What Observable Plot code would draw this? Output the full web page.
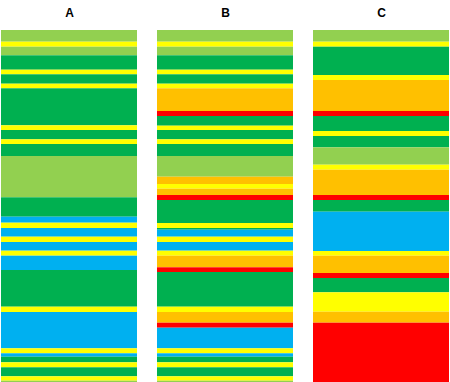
<!DOCTYPE html>
<html>
<head>
<meta charset="utf-8">
<script src="https://cdn.jsdelivr.net/npm/d3@7"></script>
<script src="https://cdn.jsdelivr.net/npm/@observablehq/plot@0.6"></script>
<style>
  html, body { margin: 0; padding: 0; background: #fff; }
</style>
</head>
<body>
<div id="chart"></div>
<script>
// Column labels
const columns = ["A", "B", "C"];

// Category codes and their colours
const categories = ["LG", "Y", "G", "B", "O", "R"];
const categoryColors = ["#92D050", "#FFFF00", "#00B050", "#00B0F0", "#FFC000", "#FF0000"];

// Column A: segments from top to bottom
const catsA = ["LG","Y","LG","G","Y","G","Y","G","Y","G","Y","G","LG","G","B","Y","B","Y","B","Y","B","G","Y","B","Y","B","G","Y","G","Y","LG"];
const valsA = [11.7,5,8.6,14.4,4.6,9.4,4.6,37,4.7,9.3,4.7,12,41.3,19.4,6,5.3,8.7,5.3,8.7,5,14.3,36.7,5.3,36.3,5,3.4,5.6,5,9,4.4,1.3];

// Column B
const catsB = ["LG","Y","LG","G","Y","G","Y","O","R","G","Y","G","Y","G","LG","O","Y","O","R","G","Y","G","B","Y","B","Y","O","R","G","Y","O","R","B","Y","B","G","Y","G","Y","LG"];
const valsB = [11.7,5,8.6,14.4,4.6,9.4,4.6,22.7,5,9.7,4.3,9.3,4.7,12,20.7,7.3,4.7,6.3,5,23,5,1.7,7,5.3,8.7,5,11.6,4.7,34.7,5.3,10.7,5,20.6,5,3.4,5.6,5,9,4.4,1.3];

// Column C
const catsC = ["LG","Y","G","Y","O","R","G","Y","G","LG","Y","O","R","G","B","Y","O","R","G","Y","O","R"];
const valsC = [11.7,5,28.3,5,31,5,15,5,11.3,17.4,5,25.3,5,11.7,39.3,4.7,17.3,5,14.3,19.4,11,59.3];

const total = 352;

const data = [];
[[columns[0], catsA, valsA], [columns[1], catsB, valsB], [columns[2], catsC, valsC]].forEach(([col, cats, vals]) => {
  cats.forEach((c, i) => data.push({col, cat: c, value: vals[i], i}));
});

const chart = Plot.plot({
  width: 450,
  height: 382,
  marginTop: 30,
  marginBottom: 0,
  marginLeft: 0,
  marginRight: 0,
  style: {fontFamily: "'Liberation Sans', Arial, sans-serif", background: "#fff"},
  x: {domain: columns, paddingInner: 0.128, paddingOuter: 0, label: null, axis: null},
  y: {domain: [0, total], reverse: true, axis: null},
  color: {domain: categories, range: categoryColors},
  marks: [
    Plot.barY(data, {x: "col", y: "value", fill: "cat", z: "i"}),
    Plot.axisX({anchor: "top", tickSize: 0, tickPadding: 14, fontSize: 12, fontWeight: "bold", label: null})
  ]
});
document.getElementById("chart").appendChild(chart);
</script>
</body>
</html>
